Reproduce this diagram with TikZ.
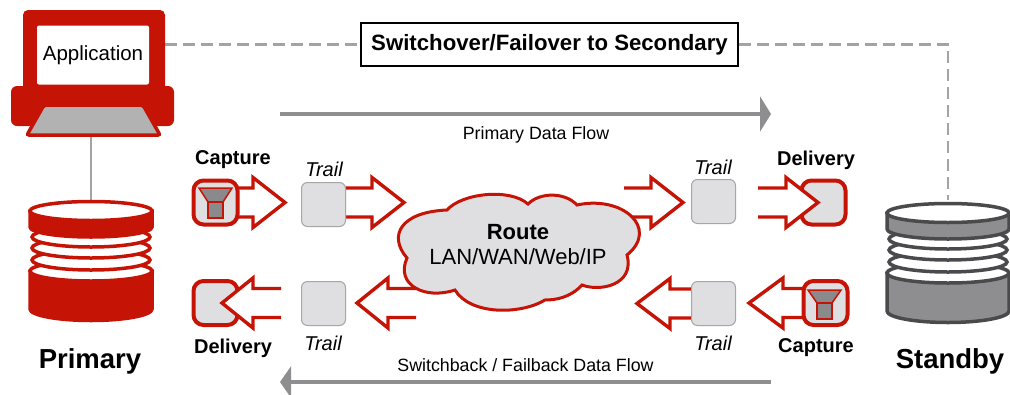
\documentclass[tikz,border=0pt]{standalone}
\usepackage{fontspec}
\setmainfont{Liberation Sans}
\usetikzlibrary{arrows.meta,calc}
\pgfdeclarelayer{back}
\pgfsetlayers{back,main}
\definecolor{oraclered}{HTML}{C51405}
\definecolor{boxgray}{HTML}{DFDEE1}
\definecolor{flowgray}{HTML}{8E8D90}
\definecolor{dashgray}{HTML}{A3A2A4}
\definecolor{darkgray}{HTML}{4A494C}
\definecolor{funnelgray}{HTML}{8A898C}
\tikzset{
  trailbox/.style={draw=gray!70,line width=1pt,fill=boxgray,rounded corners=6pt,minimum size=44pt,inner sep=0pt},
  redbox/.style={draw=oraclered,line width=4pt,fill=boxgray,rounded corners=10pt,minimum size=44pt,inner sep=0pt},
  fatline/.style={draw=oraclered,line width=3.4pt,fill=white,miter limit=10},
  flowarrow/.style={draw=flowgray,line width=4.4pt,-{Triangle[length=11pt,width=#1]}},
  dashline/.style={draw=dashgray,line width=2.2pt,dash pattern=on 12pt off 6pt},
  funnelpart/.style={draw=oraclered,line width=1.5pt,fill=funnelgray},
  dbnode/.style={minimum width=122pt,minimum height=122pt,inner sep=0pt},
  bigtxt/.style={font=\fontsize{27.5}{30}\selectfont\bfseries,inner sep=0pt},
  stagetxt/.style={font=\fontsize{20}{22}\selectfont\bfseries,inner sep=0pt},
  trailtxt/.style={font=\fontsize{20}{22}\selectfont\itshape,inner sep=0pt},
  flowtxt/.style={font=\fontsize{17.8}{20}\selectfont,inner sep=0pt},
}
% hollow arrow with an open tail, horizontal only
\newcommand{\fatarrow}[3]{%
  \draw[fatline] let \p1=(#1),\p2=(#2),\n1={\x2>\x1 ? 1 : -1} in
    (\x1,\y1+14.5pt) -- (\x2-\n1*#3*1pt,\y1+14.5pt) -- (\x2-\n1*#3*1pt,\y1+25pt) -- (\x2,\y1)
    -- (\x2-\n1*#3*1pt,\y1-25pt) -- (\x2-\n1*#3*1pt,\y1-14.5pt) -- (\x1,\y1-14.5pt);}
% the database stack: x, y of the top disc, line colour, body colour
\newcommand{\dbstack}[4]{%
  \begin{scope}[line width=3.5pt,draw=#3]
    \draw[fill=#4] (#1-61,#2+60) -- (#1-61,#2+98) arc[start angle=180,end angle=360,x radius=61,y radius=-11.5] -- (#1+61,#2+60) -- cycle;
    \draw[fill=white] (#1,#2+60) ellipse[x radius=61,y radius=10];
    \foreach \n in {49,37,26}
      \draw[fill=white] (#1,#2+\n) ellipse[x radius=59,y radius=10];
    \draw[fill=#4] (#1-61,#2) -- (#1-61,#2+16) arc[start angle=180,end angle=360,x radius=61,y radius=-10] -- (#1+61,#2) -- cycle;
    \draw[fill=white] (#1,#2) ellipse[x radius=61,y radius=9.5];
  \end{scope}}
\begin{document}
\begin{tikzpicture}[x=1pt,y=-1pt]
  \clip (0,0) rectangle (1010,394);
  % dashed switchover path
  \node[draw=black,line width=1.5pt,fill=white,minimum width=377pt,minimum height=43pt,inner sep=0pt,font=\fontsize{22.2}{24}\selectfont\bfseries] (switch) at (549.5,44.5) {Switchover/Failover to Secondary};
  \node[dbnode] (standby) at (948,261) {};
  \node[minimum width=142pt,minimum height=80pt,inner sep=0pt] (laptop) at (94,50) {};
  \draw[dashline] (laptop.east |- switch) -- (switch.west);
  \draw[dashline] (switch.east) -| (standby.north);
  % laptop
  \coordinate (laptopfoot) at (91,136);
  \node[dbnode] (primary) at (91,261) {};
  \draw[dashgray,line width=2.4pt] (laptopfoot) -- (primary.north);
  \fill[oraclered,rounded corners=5pt] (23,10) rectangle (165,95);
  \fill[oraclered,rounded corners=6pt] (11,86) rectangle (174,126);
  \draw[draw=oraclered,line width=3.5pt,fill=gray!60,rounded corners=2pt] (44,105) -- (143,105) -- (160,135) -- (27,135) -- cycle;
  \node[fill=white,rounded corners=2pt,minimum width=112pt,minimum height=59pt,inner sep=0pt,font=\fontsize{20.5}{24}\selectfont] (app) at (93,55) {\raisebox{-1pt}{Application}};
  % databases
  \dbstack{91}{211}{oraclered}{oraclered}
  \dbstack{948}{213}{darkgray}{flowgray}
  \node[bigtxt] (primarytxt) at (90,361) {Primary};
  \node[bigtxt] (standbytxt) at (950,361) {Standby};
  % cloud
  \draw[draw=oraclered,line width=3pt,fill=boxgray] (407,258) .. controls (388,236) and (400,212) .. (447,210)
    .. controls (462,193) and (510,188) .. (528,204)
    .. controls (540,192) and (565,192) .. (577,205)
    .. controls (622,195) and (660,228) .. (627,255)
    .. controls (635,285) and (600,292) .. (582,285)
    .. controls (570,298) and (555,300) .. (545,300)
    .. controls (520,315) and (470,315) .. (455,290)
    .. controls (425,300) and (395,285) .. (407,258) -- cycle;
  \node[inner sep=0pt,align=center,font=\fontsize{22}{25}\selectfont] (route) at (518,245) {{\bfseries Route}\\LAN/WAN/Web/IP};
  % flow arrows
  \coordinate (pstart) at (280,114);
  \coordinate (pend) at (771,114);
  \coordinate (sstart) at (771,382);
  \coordinate (send) at (280,382);
  \draw[flowarrow=35pt] (pstart) -- (pend);
  \draw[flowarrow=31pt] (sstart) -- (send);
  \node[flowtxt] (ptxt) at (536,135) {Primary Data Flow};
  \node[flowtxt] (stxt) at (525.5,365) {Switchback / Failback Data Flow};
  % boxes
  \node[redbox] (capa) at (215.5,202.5) {};
  \node[redbox] (capb) at (825.5,303) {};
  \node[trailbox] (traila) at (323.5,204.5) {};
  \node[trailbox] (trailb) at (713.5,201.5) {};
  \node[trailbox] (trailc) at (323.5,303.5) {};
  \node[trailbox] (traild) at (713.5,303.5) {};
  % free ends of the hollow arrows
  \coordinate (capatip) at (285,202.5);
  \coordinate (tailatip) at (404,202.5);
  \coordinate (tailbend) at (624,202.5);
  \coordinate (tailbtip) at (683,202.5);
  \coordinate (delaend) at (758,202.5);
  \coordinate (delatip) at (818,202.5);
  \coordinate (cloudc) at (416,303);
  \coordinate (tailctip) at (357,303);
  \coordinate (delbend) at (281,303);
  \coordinate (delbtip) at (222,303);
  \coordinate (taildtip) at (637,303);
  \coordinate (capbtip) at (749,303);
  \begin{pgfonlayer}{back}
    \node[redbox] (dela) at (823.5,202.5) {};
    \node[redbox] (delb) at (215.5,303) {};
    \fatarrow{capa.center}{capatip}{32}
    \fatarrow{traila.center |- capatip}{tailatip}{32}
    \fatarrow{tailbend}{tailbtip}{32}
    \fatarrow{delaend}{delatip}{32}
    \fatarrow{cloudc}{tailctip}{31}
    \fatarrow{delbend}{delbtip}{31}
    \fatarrow{traild.center}{taildtip}{33}
    \fatarrow{capb.center}{capbtip}{34}
  \end{pgfonlayer}
  % funnels
  \draw[funnelpart] (199,188) -- (232,188) -- (223,202) -- (208,202) -- cycle;
  \draw[funnelpart] (208,202) rectangle (223,218);
  \draw[funnelpart] (808,290) -- (841,290) -- (832,303) -- (817,303) -- cycle;
  \draw[funnelpart] (817,303) rectangle (832,319);
  % labels
  \node[stagetxt] (captxta) at (233,160) {Capture};
  \node[stagetxt] (deltxta) at (816,160) {Delivery};
  \node[stagetxt] (deltxtb) at (233,348) {Delivery};
  \node[stagetxt] (captxtb) at (816,348) {Capture};
  \node[trailtxt] (trailtxta) at (324,169) {Trail};
  \node[trailtxt] (trailtxtb) at (713,167) {Trail};
  \node[trailtxt] (trailtxtc) at (323,343) {Trail};
  \node[trailtxt] (trailtxtd) at (713,343) {Trail};
\end{tikzpicture}
\end{document}
